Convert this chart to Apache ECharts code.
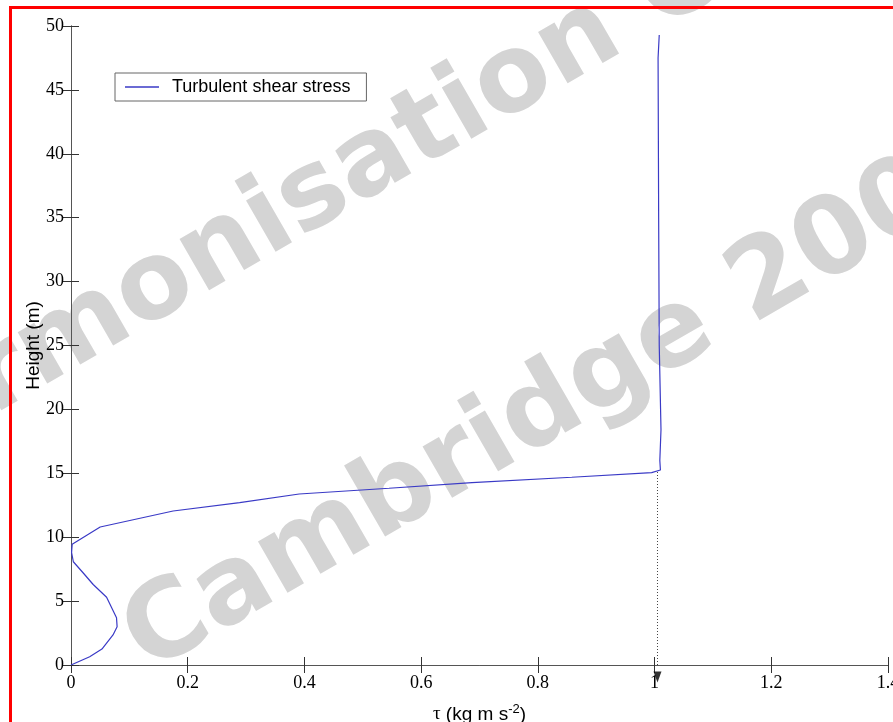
<!DOCTYPE html>
<html>
<head>
<meta charset="utf-8">
<script src="https://cdn.jsdelivr.net/npm/echarts@6/dist/echarts.min.js"></script>
<style>
  html, body { margin: 0; padding: 0; background: #fff; }
  #chart { width: 893px; height: 722px; }
</style>
</head>
<body>
<div id="chart"></div>
<script>
// Vertical profile of turbulent shear stress (tau) against height
const heightM = [0, 0.65, 1.25, 2.35, 3.0, 3.7, 5.3, 6.3, 7.2, 8.08, 8.8, 9.44, 10.8, 12.05, 12.7, 13.38, 13.83, 14.27, 14.69, 15.05, 15.26, 16.0, 18.4, 25.0, 35.0, 47.5, 49.3];
const stress  = [0, 0.032, 0.053, 0.072, 0.079, 0.078, 0.061, 0.038, 0.021, 0.004, 0.001, 0.002, 0.05, 0.175, 0.289, 0.391, 0.545, 0.687, 0.858, 0.995, 1.010, 1.009, 1.011, 1.008, 1.007, 1.006, 1.008];

// Reference stress level marked by a dotted drop line and an arrow head
const refStress = 1.005;
const refTop = 15.1;

const xTicks = [0, 0.2, 0.4, 0.6, 0.8, 1, 1.2, 1.4];
const yTicks = [0, 5, 10, 15, 20, 25, 30, 35, 40, 45, 50];

const seriesName = 'Turbulent shear stress';
const lineColor = '#3a3ac6';
const axisColor = '#555';
const serif = '"Liberation Serif", "Times New Roman", serif';
const sans = '"Liberation Sans", Arial, sans-serif';
const stampFont = 'bold 108px "DejaVu Sans", Verdana, sans-serif';
const stampColor = '#d4d4d4';

const chart = echarts.init(document.getElementById('chart'), null, { renderer: 'canvas' });

const axisBase = {
  type: 'value',
  axisLine: { show: true, lineStyle: { color: axisColor, width: 1 } },
  axisTick: { show: true, inside: true, length: 8, lineStyle: { color: '#333' } },
  splitLine: { show: false }
};

chart.setOption({
  backgroundColor: '#fff',
  animation: false,
  grid: { left: 71, top: 26, right: 5, bottom: 57, containLabel: false, outerBoundsMode: 'none' },
  legend: {
    data: [{ name: seriesName, icon: 'rect' }],
    left: 115,
    top: 73,
    orient: 'horizontal',
    padding: [5, 16, 5, 10],
    itemWidth: 34,
    itemHeight: 1.3,
    borderColor: '#666',
    borderWidth: 1,
    backgroundColor: '#fff',
    textStyle: { fontFamily: sans, fontSize: 18, color: '#000', padding: [0, 0, 0, 8] }
  },
  xAxis: [
    Object.assign({}, axisBase, {
      min: xTicks[0], max: xTicks[xTicks.length - 1], interval: 0.2,
      position: 'bottom',
      axisLabel: { color: '#000', fontFamily: serif, fontSize: 18, margin: 9 },
      name: '{t|τ} (kg m s{sup|-2})',
      nameLocation: 'middle',
      nameGap: 38,
      nameTextStyle: {
        fontFamily: sans, fontSize: 19, color: '#000',
        rich: {
          t: { fontFamily: serif, fontSize: 19, color: '#000' },
          sup: { fontFamily: sans, fontSize: 13, color: '#000', padding: [0, 0, 10, 0] }
        }
      }
    }),
    Object.assign({}, axisBase, {
      min: xTicks[0], max: xTicks[xTicks.length - 1], interval: 0.2,
      position: 'top',
      axisLabel: { show: false }
    })
  ],
  yAxis: [
    Object.assign({}, axisBase, {
      min: yTicks[0], max: yTicks[yTicks.length - 1], interval: 5,
      position: 'left',
      axisLabel: { color: '#000', fontFamily: serif, fontSize: 18, margin: 7 },
      name: 'Height (m)',
      nameLocation: 'middle',
      nameGap: 28,
      nameMoveOverlap: false,
      nameRotate: 90,
      nameTextStyle: { fontFamily: sans, fontSize: 19, color: '#000' }
    }),
    Object.assign({}, axisBase, {
      min: yTicks[0], max: yTicks[yTicks.length - 1], interval: 5,
      position: 'right',
      axisLabel: { show: false }
    })
  ],
  graphic: [
    {
      type: 'text', z: -10, x: -162, y: 472, rotation: Math.PI / 6,
      style: { text: 'Harmonisation Conference', font: stampFont, fill: stampColor, align: 'left', verticalAlign: 'middle' }
    },
    {
      type: 'text', z: -10, x: 134, y: 649, rotation: Math.PI / 6,
      style: { text: 'Cambridge 2007', font: stampFont, fill: stampColor, align: 'left', verticalAlign: 'middle' }
    },
    { type: 'rect', z: 100, shape: { x: 9, y: 6, width: 3, height: 716 }, style: { fill: '#ff0000' } },
    { type: 'rect', z: 100, shape: { x: 9, y: 6, width: 884, height: 3 }, style: { fill: '#ff0000' } }
  ],
  series: [
    {
      name: seriesName,
      type: 'line',
      xAxisIndex: 0, yAxisIndex: 0,
      data: stress.map((s, i) => [s, heightM[i]]),
      symbol: 'none',
      smooth: false,
      lineStyle: { color: lineColor, width: 1.2 },
      itemStyle: { color: lineColor },
      z: 3
    },
    {
      name: 'reference',
      type: 'line',
      data: [[refStress, 0], [refStress, refTop]],
      symbol: 'none',
      lineStyle: { color: '#444', width: 1, type: [1, 2] },
      z: 2
    },
    {
      name: 'reference-arrow',
      type: 'scatter',
      data: [[refStress, 0]],
      symbol: 'path://M0,0 L10,0 L5,13 Z',
      symbolSize: [8, 11],
      symbolOffset: [0, 12],
      itemStyle: { color: '#000' },
      clip: false,
      silent: true,
      z: 4
    }
  ]
});
</script>
</body>
</html>
